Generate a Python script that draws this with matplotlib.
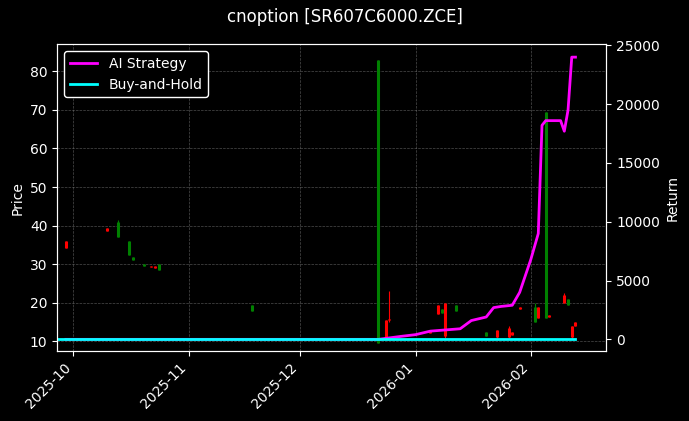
import numpy as np
import pandas as pd
import matplotlib
matplotlib.use('Agg')
import matplotlib.pyplot as plt
import matplotlib.dates as mdates

plt.style.use('dark_background')

# candles (red = up, green = down)
dates = pd.to_datetime(['2025-09-29', '2025-10-10', '2025-10-13', '2025-10-16', '2025-10-17',
                        '2025-10-20', '2025-10-22', '2025-10-23', '2025-10-24', '2025-11-18',
                        '2025-12-22', '2025-12-24', '2025-12-25', '2026-01-05', '2026-01-07',
                        '2026-01-08', '2026-01-09', '2026-01-12', '2026-01-20', '2026-01-23',
                        '2026-01-26', '2026-01-27', '2026-01-29', '2026-02-02', '2026-02-03',
                        '2026-02-05', '2026-02-06', '2026-02-10', '2026-02-11', '2026-02-12',
                        '2026-02-13'])
opens = [34.2, 38.6, 41.0, 36.0, 32.0, 30.0, 29.3, 29.0, 30.0, 19.5,
         83.0, 11.0, 15.5, 12.2, 17.0, 18.5, 11.5, 19.5, 12.5, 11.2,
         11.2, 11.6, 18.4, 19.0, 16.0, 69.5, 16.4, 20.0, 21.0, 11.2, 14.0]
closes = [36.0, 39.3, 37.0, 32.5, 31.0, 29.6, 29.6, 29.6, 28.5, 18.0,
          9.5, 15.5, 15.8, 13.0, 19.5, 17.5, 20.0, 18.0, 11.5, 13.0,
          13.5, 12.5, 18.8, 15.0, 19.0, 16.0, 16.8, 22.0, 19.5, 14.0, 15.0]
highs = [36.0, 39.3, 41.5, 36.0, 32.0, 30.0, 29.6, 29.6, 30.0, 19.5,
         83.0, 15.5, 23.0, 13.0, 19.5, 18.5, 20.0, 19.5, 12.5, 13.0,
         14.0, 12.5, 18.8, 20.0, 19.0, 69.5, 16.8, 22.5, 21.0, 14.0, 15.0]
lows = [34.2, 38.6, 37.0, 32.5, 31.0, 29.6, 29.3, 29.0, 28.5, 18.0,
        9.5, 11.0, 15.0, 12.2, 17.0, 17.5, 11.0, 18.0, 11.5, 11.0,
        11.0, 11.6, 18.4, 15.0, 16.0, 16.0, 16.4, 20.0, 19.5, 11.0, 14.0]

# strategy returns
ret_dates = pd.to_datetime(['2025-09-29', '2025-12-22', '2025-12-28', '2026-01-01', '2026-01-05',
                            '2026-01-09', '2026-01-13', '2026-01-16', '2026-01-18', '2026-01-20',
                            '2026-01-22', '2026-01-24', '2026-01-27', '2026-01-29', '2026-02-01',
                            '2026-02-03', '2026-02-04', '2026-02-05', '2026-02-09', '2026-02-10',
                            '2026-02-11', '2026-02-12', '2026-02-13'])
ai_ret = [0, 0, 250, 400, 700, 800, 900, 1600, 1750, 1900,
          2700, 2800, 2900, 4000, 6800, 9000, 18200, 18600, 18600, 17700,
          19500, 24000, 24000]
bh_dates = pd.to_datetime(['2025-09-27', '2026-02-13'])
bh_ret = [0, 0]

fig, ax = plt.subplots(figsize=(6.89, 4.21), dpi=100)
fig.patch.set_facecolor('black')
ax.set_facecolor('black')
for d, o, c, h, l in zip(dates, opens, closes, highs, lows):
    col = 'red' if c >= o else 'green'
    ax.vlines(d, l, h, color=col, linewidth=0.8)
    ax.vlines(d, min(o, c), max(o, c), color=col, linewidth=2.2)
ax.set_ylim(7.5, 87)
ax.set_ylabel('Price')
ax.grid(True, linestyle='--', linewidth=0.5, color='gray', alpha=0.6)

ax2 = ax.twinx()
ax2.plot(ret_dates, ai_ret, color='magenta', linewidth=2, label='AI Strategy')
ax2.plot(bh_dates, bh_ret, color='cyan', linewidth=2, label='Buy-and-Hold')
ax2.set_ylim(-1000, 25100)
ax2.set_ylabel('Return')
ax2.legend(loc='upper left', facecolor='black', edgecolor='white', framealpha=1)

ax.set_xlim(pd.Timestamp('2025-09-26 16:00'), pd.Timestamp('2026-02-21 07:00'))
ax.xaxis.set_major_locator(mdates.MonthLocator())
ax.xaxis.set_major_formatter(mdates.DateFormatter('%Y-%m'))
plt.setp(ax.get_xticklabels(), rotation=45, ha='right')

fig.suptitle('cnoption [SR607C6000.ZCE]')
fig.subplots_adjust(left=0.083, right=0.88, top=0.895, bottom=0.166)
fig.savefig('out.png', dpi=100, facecolor='black')
